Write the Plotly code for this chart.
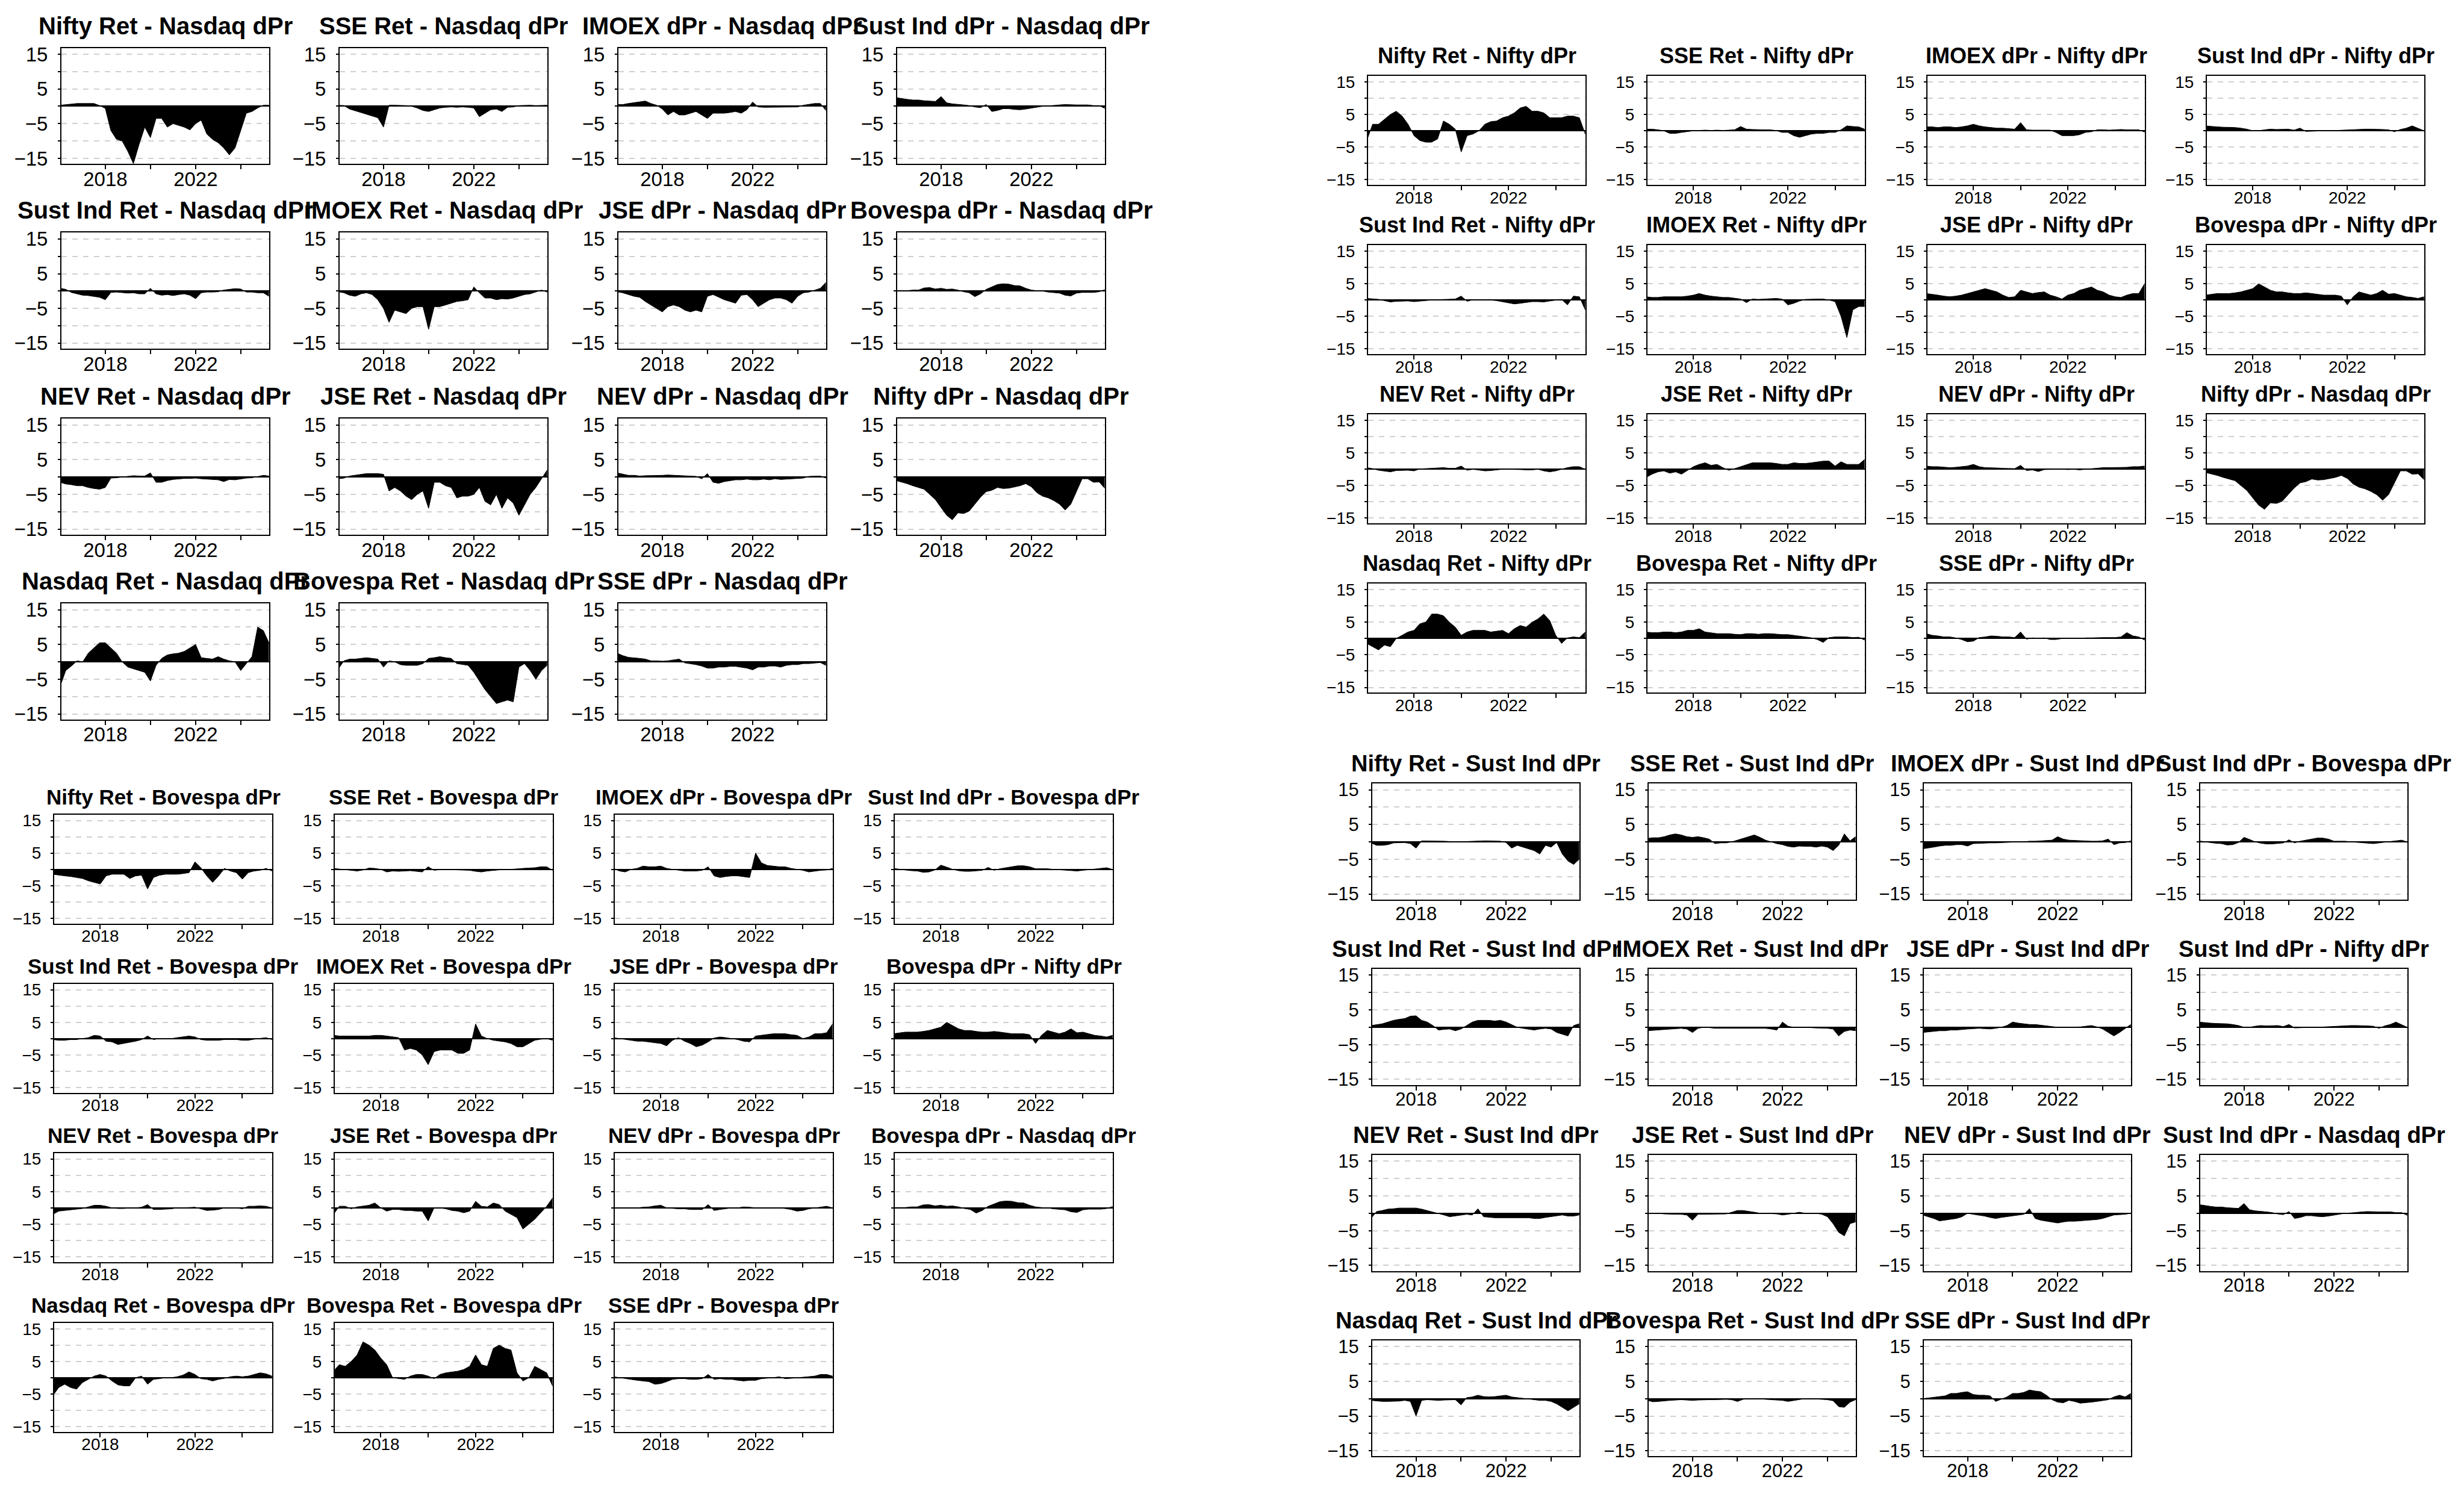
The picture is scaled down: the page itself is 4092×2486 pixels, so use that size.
import pandas as pd
import plotly.graph_objects as go

# quarterly sampling of the rolling series, 2016Q1 .. 2025Q2
dates = pd.date_range("2016-01-01", periods=38, freq="QS")

# ---- panel: Nasdaq dPr ----
nifty_ret_nasdaq = [0.3, 0.5, 0.6, 0.8, 0.8, 0.8, 0.8, 0.2, -0.6, -7, -9.5, -10, -13, -16.5, -11, -6, -9, -3.5, -3.5, -6, -5, -5.5, -6, -6.8, -5, -4, -8, -9.5, -10.5, -12, -14, -12, -7, -2, -1.5, -0.5, 0.3, 0.3]
sse_ret_nasdaq = [0.3, 0.2, -0.8, -1.3, -1.8, -2.2, -2.8, -3.3, -6, 0.3, 0.3, 0.3, 0.2, 0, -0.5, -1.2, -1.5, -1, -0.5, -0.3, -0.2, -0.3, -0.2, -0.3, -0.5, -3, -2, -1, -0.8, -1.5, -0.3, -0.2, 0.2, 0.3, 0.3, 0.2, 0.3, 0.3]
imoex_dpr_nasdaq = [0.5, 0.5, 0.8, 1, 1.2, 1.5, 0.8, 0.3, -0.8, -2.5, -1.5, -2.5, -2.5, -2, -1.5, -2.5, -3.5, -2, -2, -2, -1.8, -1.5, -2, -1, 1.2, -0.2, -0.3, -0.3, -0.3, -0.3, -0.2, -0.3, -0.2, 0.3, 0.5, 0.8, 0.8, -1.2]
sust_dpr_nasdaq = [2.5, 2.2, 2, 1.8, 1.8, 1.6, 1.5, 1.4, 2.8, 1.0, 0.7, 0.6, 0.4, 0.2, -0.2, -0.4, 0.5, -1.5, -1.2, -0.7, -0.7, -0.9, -1.0, -0.8, -0.5, -0.2, 0, 0.1, 0.3, 0.4, 0.5, 0.4, 0.4, 0.4, 0.4, 0.2, 0.2, -0.6]
sust_ret_nasdaq = [0.8, 0.5, -0.4, -0.8, -1.2, -1.3, -1.6, -1.8, -2.5, -0.4, -0.3, -0.5, -0.6, -0.5, -0.8, -0.8, 0.8, -0.8, -1.2, -1, -1.3, -1, -0.8, -1.2, -2.2, -0.5, -0.3, -0.3, -0.2, 0.3, 0.5, 0.7, 0.6, -0.3, -0.3, -0.5, -0.5, -1.5]
imoex_ret_nasdaq = [-0.2, -0.5, -1.2, -1.5, -0.8, -0.5, -1, -2.5, -5, -9, -5.5, -6, -6.5, -5, -4.5, -4.5, -11, -4.5, -4.5, -4, -3.5, -3, -2.8, -2.5, 1.2, -0.5, -2, -2, -2.5, -2.2, -2.3, -2, -1.5, -1, -0.8, -0.3, 0.3, -0.3]
jse_dpr_nasdaq = [-0.2, -0.5, -1, -1.5, -1.8, -3, -4, -5, -6, -4.5, -4, -4.5, -5.5, -6, -5.5, -6, -1.5, -1, -1.8, -2.5, -3, -3.5, -1.2, -1, -2.5, -4.5, -3.5, -2.5, -2, -2, -2.5, -3.5, -1.5, -0.5, -0.3, 0.3, 0.8, 2.5]
bov_dpr_nasdaq = [0.1, 0.1, 0.1, 0.3, 0.3, 0.9, 1, 0.6, 0.8, 0.5, 0.6, 0.3, -0.2, -0.5, -1.6, -0.8, 0.5, 1.2, 1.9, 2.1, 2, 1.6, 1.5, 0.8, 0.3, 0.1, 0, -0.3, -0.4, -0.6, -1.2, -1.4, -0.6, -0.4, -0.4, -0.4, -0.2, 0.4]
nev_ret_nasdaq = [-1.5, -2, -2.2, -2.5, -2.5, -3, -3.3, -3.5, -3, -0.3, -0.2, 0, 0.3, 0.4, 0.3, 0.3, 1.2, -1.5, -1.5, -1, -0.7, -0.5, -0.4, -0.4, -0.3, -0.5, -0.6, -0.8, -0.8, -1.3, -0.7, -0.8, -0.5, -0.3, -0.2, 0.2, 0.5, 0.3]
jse_ret_nasdaq = [-0.5, -0.3, 0.3, 0.5, 0.8, 1, 1, 1, 0.8, -4, -3, -4, -5.5, -6.5, -5, -4, -9, -1.5, -1.5, -2.5, -3, -6, -5.5, -5.5, -5, -3, -7, -8, -5, -9, -6, -7.5, -11, -8, -5, -3, -0.5, 2]
nev_dpr_nasdaq = [1.2, 0.8, 0.5, 0.5, 0.3, 0.4, 0.4, 0.5, 0.5, 0.6, 0.5, 0.4, 0.3, 0.2, 0.2, -0.5, 1, -1.5, -1.8, -1.3, -1, -0.8, -0.8, -0.6, -0.8, -0.8, -0.6, -0.8, -0.5, -0.7, -0.6, -0.5, -0.4, -0.3, 0.2, 0.3, 0.3, -0.3]
nifty_dpr_nasdaq = [-1, -1.4, -1.9, -2.5, -3, -3.5, -5, -6.5, -8.8, -11, -12.3, -10.3, -10.5, -9.8, -7.8, -5.8, -4.2, -3.8, -3, -3.3, -3.2, -2.9, -2.5, -1.9, -2.8, -4.5, -5.5, -6, -6.8, -7.8, -9.5, -7.8, -4, -0.5, -0.5, -1.5, -1.4, -3.2]
nasdaq_ret_nasdaq = [-7, -2.5, -1.2, 0.3, 0, 2.5, 4, 5.5, 5.5, 4, 2.5, 0, -1.5, -2, -2.5, -3, -5.5, -1, 1, 2, 2.3, 2.5, 3, 4, 5, 1.2, 1, 0.8, 1.5, 0.8, 0.3, 0, -2.5, -0.5, 1.5, 10, 9, 5.5]
bov_ret_nasdaq = [-2, 0.3, 0.8, 0.8, 1, 1.2, 1, 0.8, -1.5, 0.3, 0, -0.8, -1, -1, -1, -0.5, 1, 1.2, 1.5, 1.2, 1, -0.5, -0.8, -1, -3, -5.5, -8, -10, -12, -11.5, -11, -11.5, -1.5, -0.5, -2.5, -5, -2.5, -1]
sse_dpr_nasdaq = [2.5, 1.8, 1.3, 1.2, 1, 0.8, 0.3, 0.3, 0.2, 0.3, 0.5, 0.8, -0.3, -0.5, -0.8, -1.2, -1.8, -1.8, -1.5, -1.5, -1.3, -1.3, -1.5, -1.8, -2.3, -1.5, -1.5, -1.2, -1.2, -1.5, -1, -0.8, -0.8, -0.5, -0.5, -0.3, -0.2, -1]

# ---- panel: Nifty dPr ----
nifty_ret_nifty = [-3, 2, 2, 3.5, 5, 6, 4.5, 2, -1.5, -3, -3.5, -3.5, -2.5, 3, 2, 0.5, -6.5, -1.5, -1, 0, 2, 2.8, 3, 4, 4.5, 5.5, 7, 7.5, 6, 6, 5.5, 4, 4, 4, 4.5, 4.5, 4, -1]
sse_ret_nifty = [0.5, 0.5, 0.3, 0, -0.8, -0.8, -0.5, -0.2, 0, 0.1, 0.2, 0.1, 0.2, 0.1, 0.2, 0.3, 1.3, 0.5, 0.4, 0.3, 0.3, 0.3, 0.1, -0.5, -0.5, -1.5, -2, -1.5, -1, -0.8, -0.8, -0.5, -0.5, 0.3, 1.5, 1.3, 1.2, 0.5]
imoex_dpr_nifty = [1.2, 1.2, 1, 1.2, 1.2, 1, 1.2, 1.5, 2, 1.5, 1.2, 1, 0.8, 0.8, 0.7, 0.5, 2.5, 0.3, 0.2, 0.2, 0.2, 0.2, -0.5, -1.5, -1.5, -1.5, -1.2, -0.5, -0.3, 0.3, 0.3, 0.2, 0.3, 0.4, 0.3, 0.3, 0.3, -0.4]
sust_dpr_nifty = [1.5, 1.3, 1.2, 1.1, 1.1, 1, 0.8, 0.5, 0, 0, 0.3, 0.5, 0.4, 0.4, 0.5, 0.2, 0.8, -0.2, -0.1, 0, 0, 0, 0.1, 0.1, 0.3, 0.3, 0.4, 0.5, 0.5, 0.5, 0.4, 0.3, -0.3, 0.4, 0.8, 1.5, 0.8, 0]
sust_ret_nifty = [0.5, 0.4, 0.2, -0.2, -0.6, -0.4, -0.3, -0.3, -0.5, -0.3, -0.2, 0, 0.1, 0.2, 0.2, 0.3, 1.2, -0.4, 0.1, 0.1, 0, 0, -0.2, -0.5, -0.8, -1.2, -1, -0.8, -0.5, -0.5, -0.6, -0.3, 0, 0.2, -1.5, 1.2, 1, -3]
imoex_ret_nifty = [1, 0.8, 0.8, 1, 1, 1, 1, 1.2, 1.5, 2, 1.5, 1.2, 1, 0.8, 0.8, 0.5, 0.3, -0.8, 0.3, 0.2, 0.3, 0.5, 0.5, 0.3, -1.5, -1, -0.3, 0.2, 0.3, 0.3, 0.3, 0, -0.5, -5, -11.5, -3, -2, -2]
jse_dpr_nifty = [2, 1.8, 1.5, 1.2, 1, 1.2, 1.5, 2, 2.5, 3, 3.5, 3, 2.5, 1.5, 0.8, 1, 3, 2.5, 2, 2.3, 2.5, 1.5, 1, 0.3, 1.5, 2, 3, 3.5, 4, 3, 2.5, 1.5, 1, 0.8, 1.5, 2, 2, 5]
bov_dpr_nifty = [1.5, 1.8, 2, 2, 2, 2.2, 2.5, 3, 3.5, 5, 4, 3, 2.5, 2.5, 2.2, 2, 2, 2.2, 2, 1.8, 1.5, 1.5, 1.5, 1.2, -1.5, 1, 2.5, 2, 1.5, 2, 3, 1.8, 2, 1.5, 1, 0.8, 0.5, 1]
nev_ret_nifty = [0.5, 0.2, -0.3, -0.5, -0.8, -0.4, -0.3, -0.3, -0.5, 0.1, 0.2, 0.3, 0.5, 0.5, 0.3, 0.3, 1, -0.3, 0, -0.3, -0.5, -0.4, -0.2, 0, 0, 0, -0.1, -0.2, -0.2, 0, -0.5, -0.8, -0.5, 0, 0.5, 0.8, 0.8, 0]
jse_ret_nifty = [-2.5, -1.5, -0.8, -0.5, -1.2, -0.8, -1.5, -0.3, 0.8, 1.5, 2, 1.2, 1.5, 0.5, -0.3, 0.2, 0.8, 1.5, 2, 2, 2, 2, 1.8, 1.5, 1.5, 2, 1.8, 1.8, 2, 2.2, 2.5, 2.5, 1, 2.3, 1.5, 1.5, 1.5, 3]
nev_dpr_nifty = [1, 0.8, 0.8, 0.6, 0.5, 0.6, 0.8, 1, 1.5, 0.8, 0.5, 0.5, 0.4, 0.3, 0.3, 0.2, 1.2, -0.4, -0.2, -0.7, -0.1, 0, 0, 0, -0.1, 0, -0.2, 0, 0.2, 0.3, 0.5, 0.5, 0.5, 0.5, 0.6, 0.8, 0.8, 1]
nasdaq_ret_nifty = [-1.5, -2.5, -3.5, -2, -2.5, 0, 1, 2, 2.5, 4.5, 5, 7.5, 7.5, 7, 5, 3.5, 1, 2, 2.5, 2.5, 2.5, 2, 2.2, 2.5, 1.5, 3, 4, 3.5, 5, 6, 7.5, 5.5, 1, -1.5, 0.2, 0.5, 0.3, 2]
bov_ret_nifty = [2, 1.8, 1.8, 2, 2, 1.8, 2, 2.5, 2.5, 3, 2, 1.8, 1.5, 1.5, 1.5, 1.3, 1.2, 1.5, 1.5, 1.3, 1.5, 1.5, 1.3, 1.2, 1.2, 1, 0.8, 0.5, 0.2, -0.3, -1.2, 0.3, 0.5, 0.5, 0.5, 0.3, 0.4, -0.5]
sse_dpr_nifty = [1.5, 1, 0.8, 0.5, 0.5, 0.2, -0.3, -1, -0.8, 0.3, 0.5, 0.8, 0.7, 0.5, 0.5, 0.3, 2, -0.2, 0.2, 0.1, 0.2, -0.3, -0.3, 0, 0, 0.1, 0, 0.2, 0.2, 0.3, 0.3, 0.3, 0.3, 0.5, 1.8, 0.8, 0.5, -0.5]

# ---- panel: Bovespa dPr ----
nifty_ret_bov = [-1.5, -1.8, -2, -2.2, -2.5, -2.8, -3.5, -4, -4.5, -2, -1.5, -1.5, -1.5, -2.8, -2, -1.8, -6, -2.5, -1.8, -1.5, -1.5, -1.5, -1.3, -1, 2.3, 0.5, -2, -4, -2, 0.3, -0.5, -1, -3, -1, -0.5, -0.3, 0.3, -0.5]
sse_ret_bov = [0.3, 0.1, 0, -0.3, -0.5, -0.2, 0.4, 0.3, 0, -0.8, -0.5, -0.6, -0.5, -0.4, -0.6, -0.8, 0.8, -0.3, -0.1, 0, -0.1, -0.2, -0.3, -0.3, -0.6, -0.8, -0.5, -0.3, -0.2, 0, 0, 0.2, 0.3, 0.4, 0.5, 0.8, 0.8, -0.3]
imoex_dpr_bov = [0.3, -0.5, -0.8, 0, 0.3, 1, 0.8, 0.8, 1, 0.3, 0, -0.3, -0.5, -0.5, -0.5, -0.3, 0.8, -2, -2.5, -2.2, -2, -2, -2.2, -2.5, 5, 2, 1.2, 1, 0.8, 0.8, 0.3, 0, -0.3, -0.8, -0.5, -0.3, -0.2, 0.3]
sust_dpr_bov = [0.3, 0, -0.2, -0.4, -0.5, -0.9, -0.8, -0.2, 1.3, 0.7, 0, -0.4, -0.6, -0.6, -0.5, -0.3, 0.6, -0.3, 0.2, 0.5, 0.8, 1.1, 1.1, 0.8, 0.2, 0.2, 0.2, 0, -0.1, -0.3, -0.4, -0.5, -0.3, -0.1, 0.2, 0.4, 0.5, 0]
sust_ret_bov = [-0.3, -0.5, -0.5, -0.3, -0.3, 0, 0.3, 1, 0.8, -0.8, -1, -1.8, -1.5, -1.2, -0.8, -0.3, 0.8, -0.3, 0, 0, 0, 0.3, 0.5, 0.8, 0.5, -0.3, -0.5, -0.5, -0.5, -0.3, -0.3, -0.3, -0.5, -0.5, -0.2, 0, 0.3, -0.3]
imoex_ret_bov = [1, 0.8, 0.8, 0.8, 0.8, 0.8, 0.8, 1, 1, 0.8, 0.6, 0.3, -3.5, -3, -3.5, -5, -8, -4, -3.5, -3.5, -3.5, -4.5, -4.5, -3.5, 4.5, 0.8, 0, -0.5, -0.8, -1, -1.5, -2.5, -2.5, -1.5, -0.5, -0.2, 0, -0.5]
jse_dpr_bov = [0.3, 0, -0.3, -0.5, -0.8, -0.8, -1, -1.2, -1.5, -2.2, -0.5, 0.3, -0.8, -1.5, -2.5, -2, -1, 0.2, 0.5, 0.3, 0, -0.3, -0.8, -1, 0.8, 1, 1.3, 1.5, 1.5, 1.5, 1.2, 1, 0, 0.5, 1.5, 1.5, 1.8, 4.5]
nev_ret_bov = [-2, -1, -0.8, -0.6, -0.5, -0.2, 0.3, 0.8, 0.8, 0.5, 0, -0.2, -0.2, 0, 0, 0.2, 1, -0.5, -0.5, -0.4, -0.3, 0, 0, 0.1, 0.2, -0.3, -0.8, -0.7, -0.5, 0, 0, 0, -0.3, 0.5, 0.5, 0.6, 0.5, 0]
jse_ret_bov = [-2, 0.5, 0.5, -0.3, 0.3, 0.5, 0.8, 1.5, 0, -1, -0.5, -0.5, -0.8, -0.8, -1, -1, -4, 0, 0, -0.3, -0.8, -1, -1.5, -1, 2, 0.5, 0.3, 1.5, 1, -1, -2, -3, -6.5, -5, -3.5, -1.5, 0.5, 3]
nev_dpr_bov = [0, 0, 0.1, 0, 0, 0.2, 0.3, 0.6, 0.8, 0, -0.2, -0.3, -0.3, -0.5, -0.5, -0.5, 1, -0.8, -0.5, -0.3, 0, 0, 0.3, 0.2, 0, 0, 0, 0, 0, -0.2, -0.5, -1, -0.8, -0.3, 0, 0.3, 0.5, 0]
nasdaq_ret_bov = [-5.5, -3, -2, -3, -3.5, -1.5, -0.5, 0.5, 1, 0.5, -1, -2.2, -2.5, -2.5, 0, 0.5, -2, -0.5, -0.3, 0, 0, 0.3, 0.8, 1.8, 1, -0.3, -0.5, -1, -0.5, -0.2, 0.3, 0.5, 0.3, 0.5, 1, 1.5, 1.2, 0.5]
bov_ret_bov = [2, 4, 3.5, 5, 7, 11, 10, 8.5, 6, 4, 0, -0.3, -0.5, 0.5, 1, 1, 0.5, -0.3, 1, 1.5, 1.8, 2, 2.5, 3.5, 7, 4, 3.5, 9, 10, 9, 8.5, 1.5, -1, 0, 3.5, 2.5, 1.5, -2.5]
sse_dpr_bov = [0.3, 0, -0.3, -0.5, -0.8, -1, -1.2, -2, -1.8, -1.2, -0.5, -0.3, -0.3, -0.5, -0.5, -0.3, 1, -0.5, -0.3, -0.5, -0.5, -0.8, -1, -0.8, -0.8, -0.3, -0.2, 0, 0.3, -0.3, -0.2, 0, 0.2, 0.3, 0.5, 1, 1, 0.5]

# ---- panel: Sust Ind dPr ----
nifty_ret_sust = [-0.3, -1, -1, -0.8, -0.3, -0.3, -0.2, -0.5, -1.8, 0.3, 0.3, 0.3, 0.3, 0.2, 0.1, 0, 0, 0.1, 0.2, 0.3, 0.3, 0.3, 0.3, 0.2, -0.2, -1.8, -1, -1.5, -2, -2.5, -3.5, -1, -1.5, -0.2, -3.5, -5.5, -6.5, -5]
sse_ret_sust = [1, 1.2, 1.2, 1.5, 2, 2.3, 2, 1.5, 1.3, 1.5, 1.2, 0.8, -0.5, -0.3, -0.3, 0, 0.5, 1, 1.5, 2, 1.3, 0.5, 0, -0.5, -0.8, -1.3, -1.5, -1.2, -1.3, -1.3, -1.5, -1.2, -1.5, -2.5, -1, 2.3, 0.3, 1.5]
imoex_dpr_sust = [-2, -1.8, -1.5, -1.2, -1, -1, -0.8, -0.8, -1.2, -0.5, -0.4, -0.3, -0.3, -0.3, -0.2, -0.2, -0.1, 0, 0, 0.2, 0.2, 0.3, 0.3, 0.5, 1.5, 0.8, 0.5, 0.4, 0.3, 0.2, 0.2, 0.2, 0.3, 0.8, -0.8, -0.3, -0.2, 0.3]
sust_ret_sust = [0.5, 0.8, 1, 1.5, 2, 2.3, 2.5, 3.2, 3.3, 2, 1.5, 0.5, -0.8, -0.6, -0.5, -1, -0.5, 0.5, 1.5, 2, 2, 2, 1.8, 2, 1.5, 0.8, 0, -0.3, -0.6, -0.8, -0.5, -0.3, -0.5, -1.5, -2, -2.5, 0.5, 1]
imoex_ret_sust = [-1, -0.9, -0.8, -0.6, -0.5, -0.4, -0.3, -0.5, -1.5, -0.3, 0, -0.1, -0.3, -0.3, -0.3, -0.3, -0.3, -0.2, -0.2, -0.2, -0.2, -0.3, -0.5, -0.8, 1.5, 0.3, 0, 0, 0, -0.1, -0.2, -0.2, -0.3, -0.5, -2.5, -1.2, -0.8, -1]
jse_dpr_sust = [-1.5, -1.3, -1.2, -1, -1, -0.8, -0.8, -0.6, -0.5, -0.4, -0.3, -0.4, -0.5, -0.3, 0, 0.5, 1.5, 1.2, 1, 0.8, 0.8, 0.6, 0.5, 0.2, 0, 0, 0, 0, 0.1, 0.3, 0.5, 0.1, -0.5, -1.5, -2.5, -1.5, -0.3, 0.8]
nev_ret_sust = [-1.5, 0.5, 0.8, 1.2, 1.3, 1.5, 1.5, 1.5, 1.5, 1.2, 0.8, 0.3, 0, -0.5, -1, -0.8, -0.5, -0.3, -0.5, 1.3, -1, -1.2, -1.3, -1.3, -1.3, -1.3, -1.3, -1.2, -1.3, -1.5, -1.5, -1.2, -1, -0.8, -0.5, -0.8, -0.8, -0.5]
jse_ret_sust = [0, 0, 0, -0.2, -0.3, -0.3, -0.3, -0.5, -2, -0.3, -0.3, -0.3, -0.3, -0.2, -0.2, 0.3, 0.8, 0.8, 0.6, 0.3, 0, 0, -0.1, -0.2, -0.5, -0.3, 0, 0.3, 0, 0, 0, -0.3, -1, -3, -5.5, -6.5, -3, -2.5]
nev_dpr_sust = [-0.5, -1, -1.5, -2.2, -2, -1.8, -1.5, -1, 0, -0.3, -0.5, -0.8, -1.2, -1.5, -1.2, -1, -0.8, -0.5, -0.3, 1.3, -1.5, -2, -2.3, -2.5, -2.8, -2.5, -2.3, -2.3, -2.2, -2, -2, -1.8, -1.5, -1, -0.5, -0.4, -0.3, 0]
nasdaq_ret_sust = [-0.5, -0.7, -0.8, -0.8, -0.8, -0.7, -0.5, -0.8, -5, -0.5, -0.3, -0.4, -0.5, -0.4, -0.3, -0.3, -1.8, 0.3, 0.5, 1, 0.6, 0.5, 0.6, 0.8, 1, 0.5, 0.3, 0, -0.2, -0.3, -0.5, -0.5, -0.8, -1.5, -2.5, -3.5, -2.5, -1.5]
bov_ret_sust = [-0.5, -0.9, -0.8, -0.6, -0.5, -0.4, -0.3, -0.4, -0.5, -0.4, -0.3, -0.3, -0.3, -0.2, -0.2, -0.3, -0.8, -0.2, 0, 0, 0, -0.2, -0.3, -0.4, -0.5, -0.8, -0.5, -0.3, 0, 0, -0.1, -0.2, -0.3, -0.6, -2.3, -2.5, -1, -0.3]
sse_dpr_sust = [0, 0.2, 0.3, 0.5, 0.8, 1.5, 1.5, 1.8, 2, 1.2, 1, 1, 0.8, -0.8, -0.2, 0.5, 1.5, 1.5, 1.8, 2.5, 2.2, 2, 1, -0.3, -1, -1.2, -0.5, -0.8, -1.3, -1.2, -1, -0.8, -0.5, -0.3, 0.5, 1, 0.5, 1.5]

panels = [
    dict(lefts=[94, 556, 1019, 1482], tops=[64, 373, 684, 993], w=345, h=194, tick=33, title=40, tshift=13,
         plots=[("Nifty Ret - Nasdaq dPr", nifty_ret_nasdaq), ("SSE Ret - Nasdaq dPr", sse_ret_nasdaq),
                ("IMOEX dPr - Nasdaq dPr", imoex_dpr_nasdaq), ("Sust Ind dPr - Nasdaq dPr", sust_dpr_nasdaq),
                ("Sust Ind Ret - Nasdaq dPr", sust_ret_nasdaq), ("IMOEX Ret - Nasdaq dPr", imoex_ret_nasdaq),
                ("JSE dPr - Nasdaq dPr", jse_dpr_nasdaq), ("Bovespa dPr - Nasdaq dPr", bov_dpr_nasdaq),
                ("NEV Ret - Nasdaq dPr", nev_ret_nasdaq), ("JSE Ret - Nasdaq dPr", jse_ret_nasdaq),
                ("NEV dPr - Nasdaq dPr", nev_dpr_nasdaq), ("Nifty dPr - Nasdaq dPr", nifty_dpr_nasdaq),
                ("Nasdaq Ret - Nasdaq dPr", nasdaq_ret_nasdaq), ("Bovespa Ret - Nasdaq dPr", bov_ret_nasdaq),
                ("SSE dPr - Nasdaq dPr", sse_dpr_nasdaq)]),
    dict(lefts=[2264, 2728, 3193, 3657], tops=[111, 394, 677, 960], w=361, h=182, tick=28, title=36, tshift=11,
         plots=[("Nifty Ret - Nifty dPr", nifty_ret_nifty), ("SSE Ret - Nifty dPr", sse_ret_nifty),
                ("IMOEX dPr - Nifty dPr", imoex_dpr_nifty), ("Sust Ind dPr - Nifty dPr", sust_dpr_nifty),
                ("Sust Ind Ret - Nifty dPr", sust_ret_nifty), ("IMOEX Ret - Nifty dPr", imoex_ret_nifty),
                ("JSE dPr - Nifty dPr", jse_dpr_nifty), ("Bovespa dPr - Nifty dPr", bov_dpr_nifty),
                ("NEV Ret - Nifty dPr", nev_ret_nifty), ("JSE Ret - Nifty dPr", jse_ret_nifty),
                ("NEV dPr - Nifty dPr", nev_dpr_nifty), ("Nifty dPr - Nasdaq dPr", nifty_dpr_nasdaq),
                ("Nasdaq Ret - Nifty dPr", nasdaq_ret_nifty), ("Bovespa Ret - Nifty dPr", bov_ret_nifty),
                ("SSE dPr - Nifty dPr", sse_dpr_nifty)]),
    dict(lefts=[82, 548, 1013, 1478], tops=[1346, 1629, 1912, 2196], w=362, h=182, tick=28, title=35, tshift=8,
         plots=[("Nifty Ret - Bovespa dPr", nifty_ret_bov), ("SSE Ret - Bovespa dPr", sse_ret_bov),
                ("IMOEX dPr - Bovespa dPr", imoex_dpr_bov), ("Sust Ind dPr - Bovespa dPr", sust_dpr_bov),
                ("Sust Ind Ret - Bovespa dPr", sust_ret_bov), ("IMOEX Ret - Bovespa dPr", imoex_ret_bov),
                ("JSE dPr - Bovespa dPr", jse_dpr_bov), ("Bovespa dPr - Nifty dPr", bov_dpr_nifty),
                ("NEV Ret - Bovespa dPr", nev_ret_bov), ("JSE Ret - Bovespa dPr", jse_ret_bov),
                ("NEV dPr - Bovespa dPr", nev_dpr_bov), ("Bovespa dPr - Nasdaq dPr", bov_dpr_nasdaq),
                ("Nasdaq Ret - Bovespa dPr", nasdaq_ret_bov), ("Bovespa Ret - Bovespa dPr", bov_ret_bov),
                ("SSE dPr - Bovespa dPr", sse_dpr_bov)]),
    dict(lefts=[2271, 2730, 3187, 3646], tops=[1294, 1604, 1915, 2225], w=344, h=194, tick=31, title=38, tshift=10,
         plots=[("Nifty Ret - Sust Ind dPr", nifty_ret_sust), ("SSE Ret - Sust Ind dPr", sse_ret_sust),
                ("IMOEX dPr - Sust Ind dPr", imoex_dpr_sust), ("Sust Ind dPr - Bovespa dPr", sust_dpr_bov),
                ("Sust Ind Ret - Sust Ind dPr", sust_ret_sust), ("IMOEX Ret - Sust Ind dPr", imoex_ret_sust),
                ("JSE dPr - Sust Ind dPr", jse_dpr_sust), ("Sust Ind dPr - Nifty dPr", sust_dpr_nifty),
                ("NEV Ret - Sust Ind dPr", nev_ret_sust), ("JSE Ret - Sust Ind dPr", jse_ret_sust),
                ("NEV dPr - Sust Ind dPr", nev_dpr_sust), ("Sust Ind dPr - Nasdaq dPr", sust_dpr_nasdaq),
                ("Nasdaq Ret - Sust Ind dPr", nasdaq_ret_sust), ("Bovespa Ret - Sust Ind dPr", bov_ret_sust),
                ("SSE dPr - Sust Ind dPr", sse_dpr_sust)]),
]

W, H = 4092, 2486
FONT = "Liberation Sans, Arial, sans-serif"
year_ticks = ["2018-01-01", "2020-01-01", "2022-01-01", "2024-01-01"]
y_ticks = [-15, -10, -5, 0, 5, 10, 15]
y_text = ["\u221215", "", "\u22125", "", "5", "", "15"]

fig = go.Figure()
annotations = []
n = 0
for p in panels:
    for i, (title, vals) in enumerate(p["plots"]):
        n += 1
        r, c = divmod(i, 4)
        left, top = p["lefts"][c], p["tops"][r]
        sfx = "" if n == 1 else str(n)
        fig.add_trace(go.Scatter(
            x=dates, y=vals, mode="lines", fill="tozeroy",
            line=dict(color="black", width=1), fillcolor="black",
            xaxis="x" + sfx, yaxis="y" + sfx, showlegend=False, hoverinfo="skip",
        ))
        fig.layout["xaxis" + sfx] = dict(
            domain=[left / W, (left + p["w"]) / W], anchor="y" + sfx,
            range=["2016-01-22", "2025-04-05"], tickvals=year_ticks,
            ticktext=["2018", "", "2022", ""], ticks="outside", ticklen=7, tickwidth=2,
            tickcolor="black", showgrid=False, zeroline=False, showline=True,
            linecolor="black", linewidth=2, mirror=True, ticklabelstandoff=-12,
            tickfont=dict(family=FONT, size=p["tick"], color="black"),
        )
        fig.layout["yaxis" + sfx] = dict(
            domain=[1 - (top + p["h"]) / H, 1 - top / H], anchor="x" + sfx,
            range=[-16.6, 16.8], tickvals=y_ticks, ticktext=y_text,
            ticks="outside", ticklen=4, tickwidth=2, tickcolor="black",
            showgrid=True, gridcolor="#d0d0d0", griddash="dash", gridwidth=2,
            zeroline=True, zerolinecolor="black", zerolinewidth=2,
            showline=True, linecolor="black", linewidth=2, mirror=True,
            ticklabelstandoff=10,
            tickfont=dict(family=FONT, size=p["tick"], color="black"),
        )
        annotations.append(dict(
            text="<b>" + title + "</b>", xref="paper", yref="paper",
            x=(left + p["w"] / 2) / W, y=1 - top / H, xanchor="center", yanchor="bottom",
            yshift=p["tshift"], showarrow=False,
            font=dict(family=FONT, size=p["title"], color="black"),
        ))

fig.update_layout(
    width=W, height=H, margin=dict(l=0, r=0, t=0, b=0),
    paper_bgcolor="white", plot_bgcolor="white",
    annotations=annotations, showlegend=False,
)

fig.write_html("out.html")
